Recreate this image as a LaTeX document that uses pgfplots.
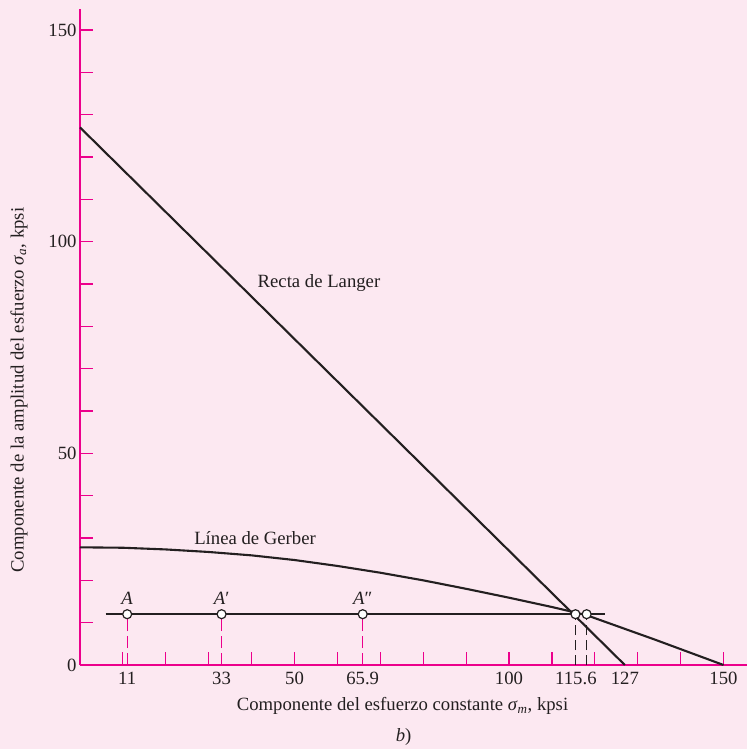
\documentclass[border=0pt]{standalone}
\usepackage{fontspec}
\setmainfont{Liberation Serif}
\usepackage{pgfplots}
\pgfplotsset{compat=1.18}
\definecolor{bgpink}{RGB}{252,232,241}
\definecolor{mag}{RGB}{236,0,140}
\definecolor{ink}{RGB}{35,31,32}
\begin{document}
\begin{tikzpicture}[font=\fontsize{18.7}{22}\selectfont]
\fill[bgpink] (-80pt,-84pt) rectangle (667pt,665pt);
\path[use as bounding box] (-80pt,-84pt) rectangle (667pt,665pt);
\begin{axis}[
  at={(0pt,0pt)}, anchor=south west,
  x=4.29pt, y=4.233pt,
  xmin=0, xmax=155.5, ymin=0, ymax=155,
  clip=false,
  axis x line=bottom, axis y line=left,
  axis line style={-, draw=mag, line width=1.3pt},
  every outer x axis line/.append style={-},
  every outer y axis line/.append style={-},
  tick align=inside,
  major tick length=13pt,
  tick style={draw=mag, line width=1.2pt},
  xtick={10,20,...,150}, ytick={10,20,...,150},
  xticklabels={}, yticklabels={},
  extra x ticks={11,33,50,65.9,100,115.6,127,150},
  extra x tick labels={11,33,50,65.9,100,115.6,127,150},
  extra y ticks={0,50,100,150},
  extra y tick labels={0,50,100,150},
  extra x tick style={major tick length=0pt},
  extra y tick style={major tick length=0pt},
  every tick label/.append style={text=ink},
  xticklabel style={yshift=-4pt},
  xlabel={Componente del esfuerzo constante \textit{σ}\textsubscript{\textit{m}}, kpsi},
  ylabel={Componente de la amplitud del esfuerzo \textit{σ}\textsubscript{\textit{a}}, kpsi},
  xlabel style={at={(axis description cs:0.4835,-0.063)}, anchor=center, text=ink},
  ylabel style={at={(axis description cs:-0.0915,0.419)}, anchor=center, rotate=0, text=ink},
]
% dashed projections
\addplot[mag, line width=1.2pt, dash pattern=on 12pt off 5pt] coordinates {(11,0) (11,12)};
\addplot[mag, line width=1.2pt, dash pattern=on 12pt off 5pt] coordinates {(33,0) (33,12)};
\addplot[mag, line width=1.2pt, dash pattern=on 12pt off 5pt] coordinates {(65.9,0) (65.9,12)};
\addplot[ink, line width=1pt, dash pattern=on 10pt off 5pt] coordinates {(115.5,0) (115.5,12)};
\addplot[ink, line width=1pt, dash pattern=on 10pt off 5pt] coordinates {(118.1,0) (118.1,12)};
% Langer line
\addplot[ink, line width=2.1pt] coordinates {(0,127) (127,0)};
% Gerber line
\addplot[ink, line width=2.1pt, line join=round] coordinates {
 (0,27.8) (10,27.7) (20,27.3) (30,26.7) (40,25.9) (50,24.8) (60,23.4)
 (70,21.8) (80,20.0) (90,18.0) (100,15.9) (110,13.7) (118,11.8)
 (126,8.9) (134,6.0) (142,3.0) (150,0)};
% load line
\addplot[ink, line width=2.1pt] coordinates {(6,12) (122.4,12)};
% points
\addplot[only marks, mark=*, mark size=4.5pt, mark options={fill=white, draw=ink, line width=1.2pt}]
 coordinates {(11,12) (33,12) (65.9,12) (115.5,12) (118.1,12)};
\node[text=ink] at (axis cs:55.7,90.2) {Recta de Langer};
\node[text=ink] at (axis cs:40.8,30.0) {Línea de Gerber};
\node[text=ink, anchor=base, yshift=10pt] at (axis cs:11,12) {\textit{A}};
\node[text=ink, anchor=base, yshift=10pt] at (axis cs:33,12) {\textit{A}′};
\node[text=ink, anchor=base, yshift=10pt] at (axis cs:65.9,12) {\textit{A}″};
\node[text=ink] at (axis description cs:0.485,-0.109) {\textit{b})};
\end{axis}
\end{tikzpicture}
\end{document}
